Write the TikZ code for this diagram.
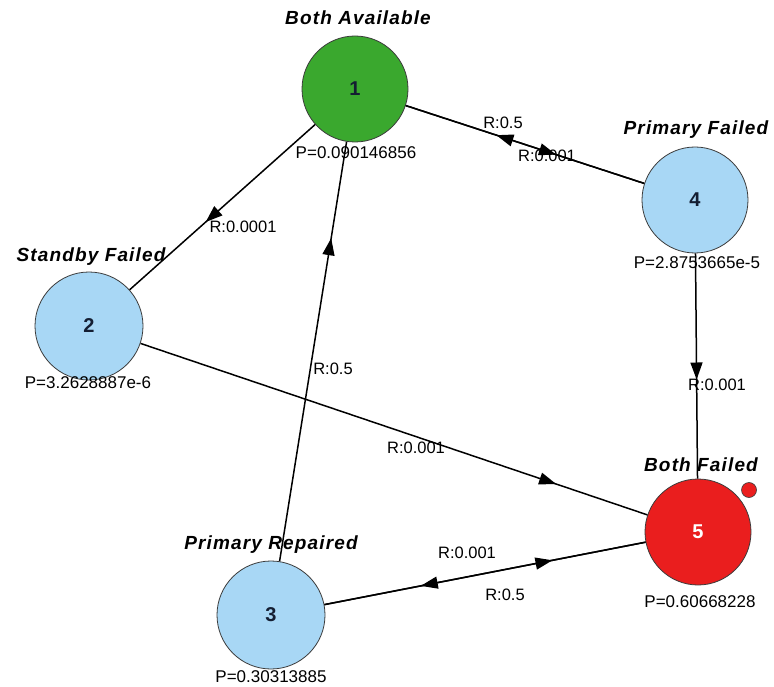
\documentclass[tikz,border=0pt]{standalone}
\usepackage{fontspec}
\setmainfont{Liberation Sans}
\usetikzlibrary{arrows.meta,decorations.markings}
\definecolor{nodegreen}{RGB}{58,168,46}
\definecolor{nodeblue}{RGB}{168,215,245}
\definecolor{nodered}{RGB}{234,30,30}
\definecolor{outline}{RGB}{60,60,60}
\definecolor{numdark}{RGB}{20,30,50}
\tikzset{
  state/.style={circle, draw=outline, line width=0.8pt, minimum size=106pt, inner sep=0pt,
    font=\fontsize{20}{20}\selectfont\bfseries, text=numdark},
  title/.style={inner sep=0pt, font=\fontsize{19}{19}\selectfont\bfseries\itshape\addfontfeature{LetterSpace=6}},
  prob/.style={inner sep=0pt, font=\fontsize{17}{17}\selectfont},
  rate/.style={inner sep=0pt, font=\fontsize{16.5}{16.5}\selectfont},
  trans/.style={draw=black, line width=1.5pt, postaction={decorate},
    decoration={markings, mark=at position #1 with {\arrow{Triangle[length=17pt,width=12pt]}}}},
}
\begin{document}
\begin{tikzpicture}[x=1pt,y=-1pt]
\useasboundingbox (0,0) rectangle (774,687);
\fill[white] (0,0) rectangle (774,687);
% states
\node[state, fill=nodegreen] (n1) at (355,89) {1};
\node[state, fill=nodeblue, minimum size=108pt] (n2) at (89,326) {2};
\node[state, fill=nodeblue, minimum size=108pt] (n3) at (271,615) {3};
\node[state, fill=nodeblue] (n4) at (695,200) {4};
\node[state, fill=nodered, text=white] (n5) at (698,532) {5};
\node[circle, draw=outline, line width=0.6pt, fill=nodered, minimum size=15pt, inner sep=0pt] (dot) at (749,490) {};
% titles
\node[title] (t1) at (358,18) {Both Available};
\node[title] (t2) at (91,257) {Standby Failed};
\node[title] (t3) at (271,545) {Primary Repaired};
\node[title] (t4) at (696,130) {Primary Failed};
\node[title] (t5) at (701,465) {Both Failed};
% probabilities
\node[prob] (p1) at (356,153) {P=0.090146856};
\node[prob] (p2) at (88,383) {P=3.2628887e-6};
\node[prob] (p3) at (271,677) {P=0.30313885};
\node[prob] (p4) at (697,263) {P=2.8753665e-5};
\node[prob] (p5) at (700,602) {P=0.60668228};
% transitions
\draw[trans=0.63] (n1) -- (n4);
\draw[trans=0.62] (n4) -- (n1);
\draw[trans=0.59] (n1) -- (n2);
\draw[trans=0.77] (n3) -- (n1);
\draw[trans=0.82] (n2) -- (n5);
\draw[trans=0.56] (n4) -- (n5);
\draw[trans=0.71] (n3) -- (n5);
\draw[trans=0.70] (n5) -- (n3);
% rate labels
\node[rate] (r41) at (503,123) {R:0.5};
\node[rate] (r14) at (547,156) {R:0.001};
\node[rate] (r12) at (243,227) {R:0.0001};
\node[rate] (r31) at (333,369) {R:0.5};
\node[rate] (r25) at (416,448) {R:0.001};
\node[rate] (r45) at (717,385) {R:0.001};
\node[rate] (r35) at (467,553) {R:0.001};
\node[rate] (r53) at (505,595) {R:0.5};
\end{tikzpicture}
\end{document}
